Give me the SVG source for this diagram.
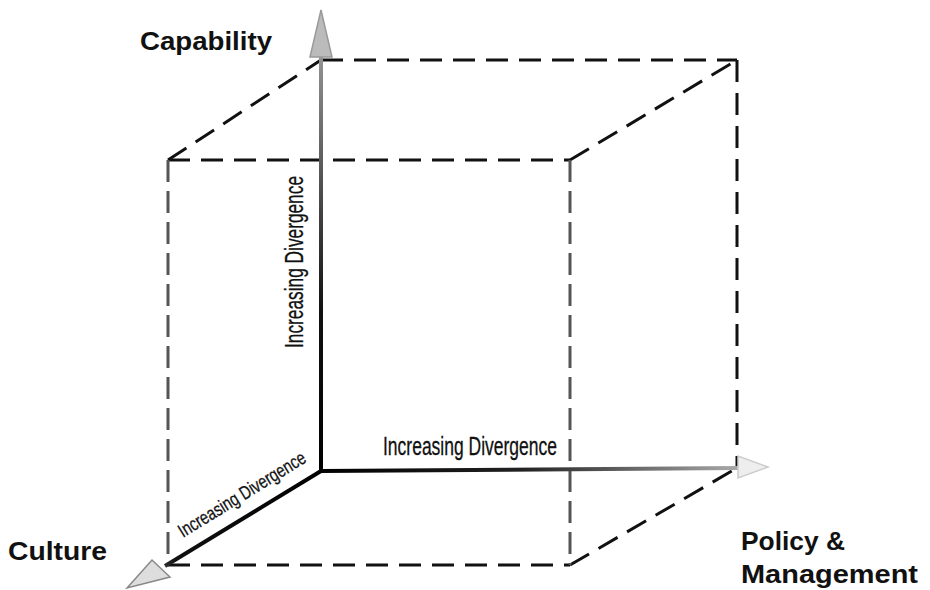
<svg xmlns="http://www.w3.org/2000/svg" width="930" height="590" viewBox="0 0 930 590">
<style>
.edge{fill:none;stroke:#111;stroke-width:3;stroke-dasharray:22 11}
.edge.grey{stroke:#555;stroke-dasharray:22 9}
.lbl{font-family:"Liberation Sans",Arial,sans-serif;font-weight:bold;font-size:26px;fill:#111}
.ax{font-family:"Liberation Sans Narrow","Liberation Sans",Arial,sans-serif;fill:#111;stroke:#111;stroke-width:0.3}
</style>
<defs>
<linearGradient id="gv" x1="0" y1="471" x2="0" y2="10" gradientUnits="userSpaceOnUse">
<stop offset="0" stop-color="#000"/><stop offset="0.35" stop-color="#111"/><stop offset="1" stop-color="#aaa"/>
</linearGradient>
<linearGradient id="gh" x1="321" y1="0" x2="768" y2="0" gradientUnits="userSpaceOnUse">
<stop offset="0" stop-color="#000"/><stop offset="0.45" stop-color="#222"/><stop offset="1" stop-color="#bbb"/>
</linearGradient>
<linearGradient id="gd" x1="321" y1="471" x2="127" y2="588" gradientUnits="userSpaceOnUse">
<stop offset="0" stop-color="#000"/><stop offset="0.75" stop-color="#111"/><stop offset="1" stop-color="#999"/>
</linearGradient>
</defs>
<g id="cube">
<line class="edge" x1="321" y1="60" x2="737" y2="60"/>
<line class="edge" x1="737" y1="60" x2="737" y2="468"/>
<line class="edge" x1="168" y1="160" x2="321" y2="60"/>
<line class="edge" x1="570" y1="160" x2="737" y2="60"/>
<line class="edge" x1="570" y1="565" x2="737" y2="468"/>
<line class="edge" x1="168" y1="160" x2="570" y2="160"/>
<line class="edge" x1="168" y1="565" x2="570" y2="565"/>
<line class="edge grey" x1="168" y1="160" x2="168" y2="565"/>
<line class="edge grey" x1="570" y1="160" x2="570" y2="565"/>
</g>
<g id="connectors">
<line x1="321" y1="471" x2="321" y2="55" stroke="url(#gv)" stroke-width="4"/>
<polygon points="321,10 310,57 332,57" fill="#bbb" stroke="#999" stroke-width="1.5"/>
<line x1="321" y1="471" x2="740" y2="468" stroke="url(#gh)" stroke-width="4"/>
<polygon points="768,467 738,456 738,478" fill="#eee" stroke="#ccc" stroke-width="1.5"/>
<line x1="321" y1="471" x2="165" y2="566" stroke="url(#gd)" stroke-width="4"/>
<polygon points="127,588 152,560 170,577" fill="#ddd" stroke="#888" stroke-width="1.5"/>
</g>
<g id="axis-labels">
<text class="ax" x="383" y="455" font-size="25" textLength="174" lengthAdjust="spacingAndGlyphs">Increasing Divergence</text>
<text class="ax" transform="translate(303,348) rotate(-90)" x="0" y="0" font-size="25" textLength="172" lengthAdjust="spacingAndGlyphs">Increasing Divergence</text>
<text class="ax" transform="translate(183,538) rotate(-31.6)" x="0" y="0" font-size="19" textLength="146" lengthAdjust="spacingAndGlyphs">Increasing Divergence</text>
</g>
<g id="capability"><text class="lbl" x="140" y="50" textLength="132" lengthAdjust="spacingAndGlyphs">Capability</text></g>
<g id="culture"><text class="lbl" x="8" y="560" textLength="99" lengthAdjust="spacingAndGlyphs">Culture</text></g>
<g id="policy"><text class="lbl" x="741" y="550" textLength="104" lengthAdjust="spacingAndGlyphs">Policy &amp;</text><text class="lbl" x="741" y="583" textLength="177" lengthAdjust="spacingAndGlyphs">Management</text></g>
</svg>
